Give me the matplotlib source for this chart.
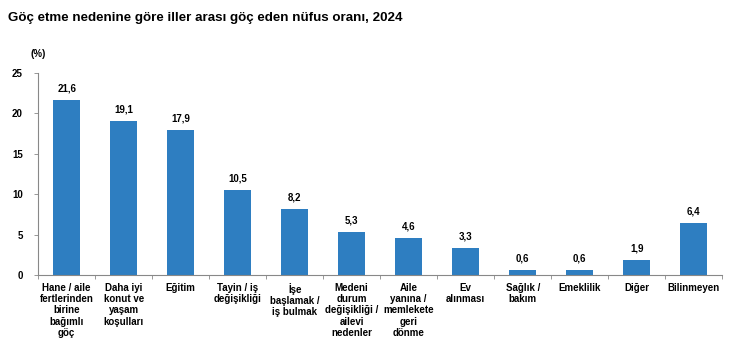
import matplotlib.pyplot as plt
import numpy as np

plt.rcParams['font.family'] = ['Liberation Sans', 'DejaVu Sans']

# Göç nedenleri ve oranlar (%)
nedenler = [
    "Hane / aile\nfertlerinden\nbirine\nbağımlı\ngöç",
    "Daha iyi\nkonut ve\nyaşam\nkoşulları",
    "Eğitim",
    "Tayin / iş\ndeğişikliği",
    "İşe\nbaşlamak /\niş bulmak",
    "Medeni\ndurum\ndeğişikliği /\nailevi\nnedenler",
    "Aile\nyanına /\nmemlekete\ngeri\ndönme",
    "Ev\nalınması",
    "Sağlık /\nbakım",
    "Emeklilik",
    "Diğer",
    "Bilinmeyen",
]
oranlar = [21.6, 19.1, 17.9, 10.5, 8.2, 5.3, 4.6, 3.3, 0.6, 0.6, 1.9, 6.4]
y_ticks = [0, 5, 10, 15, 20, 25]

fig = plt.figure(figsize=(7.34, 3.59), dpi=100)
ax = fig.add_axes([0.052, 0.234, 0.932, 0.563])

x = np.arange(len(oranlar))
ax.bar(x, oranlar, width=0.47, color="#2E7EC1")

for xi, v in zip(x, oranlar):
    ax.text(xi, v + 0.8, f"{v:.1f}".replace(".", ","), ha="center", va="bottom",
            fontsize=7, fontweight="bold")

ax.set_xlim(-0.5, len(oranlar) - 0.5)
ax.set_ylim(0, 25)
ax.set_yticks(y_ticks)
ax.set_yticklabels([str(t) for t in y_ticks], fontsize=7, fontweight="bold")
ax.tick_params(axis="y", length=3, width=0.6, color="#888888", pad=8)

# kategori sınırlarında x tikleri
ax.set_xticks(np.arange(-0.5, len(oranlar)))
ax.set_xticklabels([])
ax.tick_params(axis="x", length=3, width=0.6, color="#888888")
for xi, lab in zip(x, nedenler):
    ax.text(xi, -1.0, lab, ha="center", va="top", fontsize=7, fontweight="bold",
            linespacing=1.15)

for s in ["top", "right"]:
    ax.spines[s].set_visible(False)
for s in ["left", "bottom"]:
    ax.spines[s].set_color("#888888")
    ax.spines[s].set_linewidth(0.8)

fig.text(0.052, 0.84, "(%)", fontsize=7, fontweight="bold", ha="center")
fig.text(0.011, 0.95, "Göç etme nedenine göre iller arası göç eden nüfus oranı, 2024",
         fontsize=9.6, fontweight="bold", va="center")

fig.savefig("out.png", dpi=100)
